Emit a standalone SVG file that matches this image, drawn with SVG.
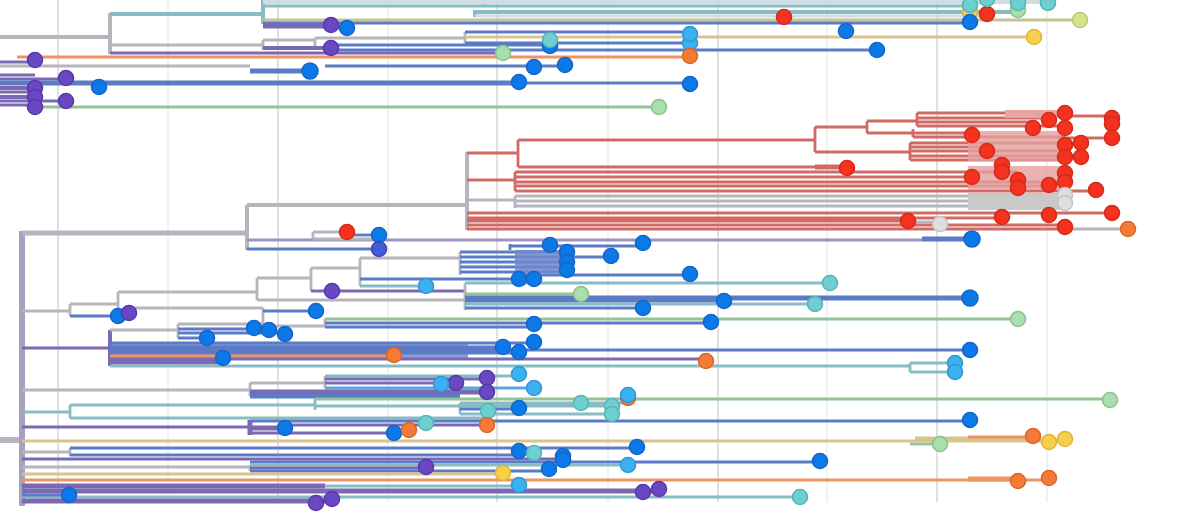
<svg xmlns="http://www.w3.org/2000/svg" width="1199" height="513" viewBox="0 0 1199 513">
<style>
.gd{stroke:#d9d9d9;stroke-width:1.6}
.gl{stroke:#eeeeee;stroke-width:1.6}
path{fill:none;stroke-width:2.8;stroke-linecap:butt}
.k{stroke:#b6b5bd}.rd{stroke:#d06a64}.bl{stroke:#5b7bc6}.pu{stroke:#7a69b3}.te{stroke:#88bcc4}
.gr{stroke:#94c398}.or{stroke:#ee9464}.ye{stroke:#d9c48e}.lg{stroke:#cfdde2}.kh{stroke:#c4c494}.tr{stroke:#a7a1c0;stroke-width:6}
.w{stroke-width:5}.w4{stroke-width:4}
circle{stroke-width:1.6}
.r{fill:#f5311f;stroke:#d42c1c}.b{fill:#0b7ae8;stroke:#1566c6}.lb{fill:#3cb1f1;stroke:#3398d4}
.t{fill:#6fcfd0;stroke:#56b5b7}.g{fill:#a8dfac;stroke:#88c48c}.p{fill:#6a48c4;stroke:#5839ab}
.o{fill:#f47a38;stroke:#dc6828}.y{fill:#f8cf4a;stroke:#e2b638}.yg{fill:#d6e48c;stroke:#bccb72}.lgc{fill:#dedede;stroke:#c4c4c4}
</style>
<rect width="1199" height="513" fill="#ffffff"/>
<g id="grid">
<line class="gd" x1="58" y1="0" x2="58" y2="502"/><line class="gl" x1="168" y1="0" x2="168" y2="502"/>
<line class="gd" x1="278" y1="0" x2="278" y2="502"/><line class="gl" x1="388" y1="0" x2="388" y2="502"/>
<line class="gd" x1="497" y1="0" x2="497" y2="502"/><line class="gl" x1="608" y1="0" x2="608" y2="502"/>
<line class="gd" x1="718" y1="0" x2="718" y2="502"/><line class="gl" x1="827" y1="0" x2="827" y2="502"/>
<line class="gd" x1="937" y1="0" x2="937" y2="502"/><line class="gl" x1="1047" y1="0" x2="1047" y2="502"/>
</g>
<g id="connectors">
<!-- top clade -->
<path class="k w4" d="M0 37H110M110 13V54"/>
<path class="te w4" d="M110 14H263M263 0V24"/>
<path class="lg w4" d="M263 2H1050M483 0V6"/>
<path class="te" d="M263 6H970"/>
<path class="te w4" d="M475 12H1018M475 10V17"/>
<path class="lg" d="M475 16H990"/>
<path class="kh" d="M263 20H1080"/>
<path class="bl" d="M263 23H970"/>
<path class="pu w" d="M263 26H331"/>
<path class="bl" d="M331 28H347"/>
<path class="k" d="M110 45H263M263 40V50M263 40H315M315 38V50M315 38H465M465 32V43"/>
<path class="bl" d="M465 32H690"/>
<path class="ye" d="M465 37H1034"/>
<path class="bl" d="M465 43H690"/>
<path class="bl" d="M331 45H550"/>
<path class="pu w4" d="M263 48H331"/>
<path class="bl" d="M331 50H877"/>
<path class="pu" d="M110 53H503"/>
<path class="or" d="M17 57H690"/>
<path class="pu" d="M0 62H35M0 75H35M0 79H66"/>
<path class="k" d="M0 66H250"/>
<path class="bl w" d="M250 71H310"/>
<path class="bl" d="M325 66H565"/>
<path class="bl w" d="M0 83H519"/>
<path class="bl" d="M519 83H690"/>
<path class="pu w4" d="M0 88H35M0 97H35"/>
<path class="pu" d="M0 92H35M0 101H66M0 105H35"/>
<path class="gr" d="M35 107H659"/>
<!-- root -->
<path class="k" d="M0 440H22" style="stroke-width:6"/>
<path class="tr" d="M22 231V506"/>
<!-- red clade -->
<path class="k w" d="M22 233H247"/>
<path class="k w4" d="M247 205V250M247 205H467M467 152V230"/>
<path class="rd" d="M467 153H518M518 140V167M518 140H815M815 127V152M815 127H867M867 121V133M867 121H917M917 113V126"/>
<path class="rd" d="M917 113H1065M1065 116H1112M917 118H1049M917 122H1033M917 126H1065M867 133H972M913 129V137M913 137H1065M1065 138H1112"/>
<path class="rd" d="M815 152H910M910 143V160M910 143H1081M910 147H987M910 151H1065M910 156H1081M910 160H1065"/>
<path class="rd" d="M518 167H815"/>
<path class="rd w" d="M815 167H847"/>
<path class="rd" d="M467 180H515M515 172V191M515 172H1018M515 177H972M515 182H1065M515 186H1049M515 191H1096"/>
<rect x="1005" y="110" width="57" height="8" fill="#e8a4a2"/>
<rect x="968" y="131" width="94" height="30" fill="#e4a09e" opacity="0.8"/>
<rect x="968" y="166" width="94" height="24" fill="#e4a09e" opacity="0.8"/>
<path class="k" d="M467 200H515M515 196V208M515 196H1065M515 201H1065M515 206H1065"/>
<rect x="968" y="193" width="95" height="17" fill="#c9c9c9"/>
<path class="rd" d="M467 213H1049M1049 213H1112M467 218H1002M467 221H908"/>
<path class="k" d="M908 222H940"/>
<path class="rd" d="M467 225H1065M467 229H1065"/>
<path class="k" d="M1065 229H1128"/>
<!-- lower clades -->
<path class="pu" d="M247 240H922" style="stroke:#9b93c2"/>
<path class="bl w" d="M922 239H970"/>
<path class="bl" d="M247 249H379"/>
<path class="k" d="M313 232V239M313 232H347M313 239H379"/>
<path class="bl" d="M347 235H379"/>
<path class="bl" d="M510 246H643M510 244V250"/>
<path class="k" d="M118 292H257M257 278V300M257 278H311M311 268V291M311 268H360M360 258V286M360 258H460M460 252V275"/>
<path class="bl" d="M460 252H567M460 257H611M460 262H567M460 267H567M460 272H567"/>
<rect x="515" y="250" width="52" height="23" fill="#7088cc" opacity="0.85"/>
<path class="bl" d="M515 275H690M360 279H534"/>
<path class="te" d="M360 286H426"/>
<path class="pu" d="M311 291H465"/>
<path class="k" d="M257 300H465M465 283V310"/>
<path class="te" d="M465 283H830"/>
<path class="gr" d="M465 294H581"/>
<path class="bl w" d="M465 298H970"/>
<path class="bl" d="M465 301H724M465 308H643"/>
<path class="te" d="M465 304H815"/>
<path class="k" d="M22 311H70M70 304V316M70 304H118M118 292V313"/>
<path class="bl" d="M70 316H118"/>
<path class="pu" d="M118 313H129"/>
<path class="k" d="M129 308H263M263 308V326"/>
<path class="bl" d="M263 311H316"/>
<path class="k" d="M263 326H325M325 319V327"/>
<path class="gr" d="M325 319H1018"/>
<path class="bl" d="M325 323H711M325 327H534"/>
<path class="pu" d="M22 348H110"/>
<path class="pu w4" d="M110 330V366"/>
<path class="k" d="M110 330H178M178 324V338M178 324H263"/>
<path class="bl" d="M178 329H269M178 333H285M178 338H207"/>
<rect x="110" y="342" width="358" height="16" fill="#6d85cb" opacity="0.8"/>
<path class="bl" d="M110 343H534M110 347H503M110 350H970M110 353H519"/>
<path class="or" d="M110 356H394"/>
<path class="pu" d="M110 359H706"/>
<path class="pu w" d="M110 362H223"/>
<path class="te" d="M110 366H910M910 363V372M910 363H955M910 372H955"/>
<path class="k" d="M22 390H250M250 383V396M250 383H325M325 376V388"/>
<path class="te" d="M325 376H519"/>
<path class="pu" d="M325 379H487M325 383H456"/>
<path class="lb" d="M325 388H534" style="stroke:#5aa6d8"/>
<path class="pu w" d="M250 392H487"/>
<path class="bl w" d="M250 396H460"/>
<path class="te" d="M22 412H70M70 405V418M70 405H315M315 399V410"/>
<path class="gr" d="M315 399H1110"/>
<path class="te" d="M315 406H460M460 403V414M460 403H628M460 406H612M460 414H612"/>
<path class="bl" d="M460 409H519"/>
<path class="te" d="M70 418H488"/>
<path class="bl" d="M250 421H970"/>
<path class="pu" d="M22 427H250"/>
<path class="pu w" d="M250 420V435M250 428H285"/>
<path class="pu" d="M250 433H394M285 425H487"/>
<path class="or" d="M394 430H409"/>
<path class="ye" d="M22 441H968M968 441H1065"/>
<path class="ye w" d="M915 439H1033"/>
<path class="or" d="M968 437H1033"/>
<path class="gr" d="M910 444H940"/>
<path class="k" d="M22 452H70M70 448V456"/>
<path class="bl" d="M70 448H637M70 455H519"/>
<path class="te" d="M519 453H534"/>
<path class="pu" d="M22 459H563"/>
<path class="bl" d="M250 462H820"/>
<path class="k" d="M22 467H250M250 465V471"/>
<path class="te" d="M250 465H628"/>
<path class="pu" d="M250 468H426"/>
<path class="bl" d="M250 471H549"/>
<path class="ye" d="M22 474H503"/>
<path class="or" d="M22 480H1049"/>
<path class="or w" d="M968 479H1018"/>
<path class="pu w" d="M22 486H325"/>
<path class="te" d="M325 486H519"/>
<path class="pu w" d="M22 491H659"/>
<path class="te" d="M22 497H800"/>
<path class="bl" d="M22 495H69"/>
<path class="pu w" d="M22 501H332"/>
</g>
<g id="tips-top">
<circle class="p" cx="35" cy="60" r="7.5"/><circle class="p" cx="66" cy="78" r="7.5"/><circle class="p" cx="35" cy="88" r="7.5"/>
<circle class="p" cx="35" cy="97" r="7.5"/><circle class="p" cx="35" cy="107" r="7.5"/><circle class="p" cx="66" cy="101" r="7.5"/>
<circle class="b" cx="99" cy="87" r="7.5"/><circle class="b" cx="310" cy="71" r="8"/>
<circle class="p" cx="331" cy="25" r="7.5"/><circle class="b" cx="347" cy="28" r="7.5"/><circle class="p" cx="331" cy="48" r="7.5"/>
<circle class="g" cx="503" cy="53" r="7.5"/><circle class="b" cx="550" cy="46" r="7.5"/><circle class="t" cx="550" cy="40" r="7.5"/>
<circle class="b" cx="534" cy="67" r="7.5"/><circle class="b" cx="565" cy="65" r="7.5"/><circle class="b" cx="519" cy="82" r="7.5"/>
<circle class="lb" cx="690" cy="43" r="7.5"/><circle class="lb" cx="690" cy="34" r="7.5"/><circle class="o" cx="690" cy="56" r="7.5"/>
<circle class="b" cx="690" cy="84" r="7.5"/><circle class="g" cx="659" cy="107" r="7.5"/>
<circle class="r" cx="784" cy="17" r="7.5"/><circle class="b" cx="846" cy="31" r="7.5"/><circle class="b" cx="877" cy="50" r="7.5"/>
<circle class="y" cx="970" cy="12" r="7.5"/><circle class="t" cx="970" cy="5" r="7.5"/><circle class="b" cx="970" cy="22" r="7.5"/>
<circle class="r" cx="987" cy="14" r="7.5"/><circle class="t" cx="987" cy="-1" r="7.5"/>
<circle class="g" cx="1018" cy="10" r="7.5"/><circle class="t" cx="1018" cy="3" r="7.5"/><circle class="t" cx="1048" cy="3" r="7.5"/>
<circle class="yg" cx="1080" cy="20" r="7.5"/><circle class="y" cx="1034" cy="37" r="7.5"/>
</g>
<g id="tips-red">
<circle class="r" cx="1065" cy="113" r="7.5"/><circle class="r" cx="1049" cy="120" r="7.5"/><circle class="r" cx="1033" cy="128" r="7.5"/>
<circle class="r" cx="1065" cy="128" r="7.5"/><circle class="r" cx="1112" cy="118" r="7.5"/><circle class="r" cx="1112" cy="124" r="7.5"/>
<circle class="r" cx="1112" cy="138" r="7.5"/><circle class="r" cx="972" cy="135" r="7.5"/><circle class="r" cx="987" cy="151" r="7.5"/>
<circle class="r" cx="1065" cy="145" r="7.5"/><circle class="r" cx="1081" cy="143" r="7.5"/><circle class="r" cx="1065" cy="157" r="7.5"/>
<circle class="r" cx="1081" cy="157" r="7.5"/><circle class="r" cx="847" cy="168" r="7.5"/><circle class="r" cx="1002" cy="165" r="7.5"/>
<circle class="r" cx="1002" cy="172" r="7.5"/><circle class="r" cx="972" cy="177" r="7.5"/><circle class="r" cx="1018" cy="180" r="7.5"/>
<circle class="r" cx="1018" cy="188" r="7.5"/><circle class="r" cx="1049" cy="185" r="7.5"/><circle class="r" cx="1065" cy="173" r="7.5"/>
<circle class="r" cx="1065" cy="182" r="7.5"/><circle class="r" cx="1096" cy="190" r="7.5"/><circle class="lgc" cx="1065" cy="195" r="7.5"/>
<circle class="lgc" cx="1065" cy="203" r="7.5"/><circle class="r" cx="1112" cy="213" r="7.5"/><circle class="r" cx="1049" cy="215" r="7.5"/>
<circle class="r" cx="1002" cy="217" r="7.5"/><circle class="r" cx="908" cy="221" r="7.5"/><circle class="lgc" cx="940" cy="224" r="7.5"/>
<circle class="r" cx="1065" cy="227" r="7.5"/><circle class="o" cx="1128" cy="229" r="7.5"/><circle class="b" cx="972" cy="239" r="8"/>
</g>
<g id="tips-lower">
<circle class="r" cx="347" cy="232" r="7.5"/><circle class="b" cx="379" cy="235" r="7.5"/><circle class="p" cx="379" cy="249" r="7.5" style="fill:#3f5ed4"/>
<circle class="b" cx="550" cy="245" r="7.5"/><circle class="b" cx="643" cy="243" r="7.5"/>
<circle class="b" cx="567" cy="252" r="7.5"/><circle class="b" cx="567" cy="262" r="7.5"/><circle class="b" cx="567" cy="270" r="7.5"/>
<circle class="b" cx="611" cy="256" r="7.5"/><circle class="b" cx="519" cy="279" r="7.5"/><circle class="b" cx="534" cy="279" r="7.5"/>
<circle class="b" cx="690" cy="274" r="7.5"/><circle class="p" cx="332" cy="291" r="7.5"/><circle class="lb" cx="426" cy="286" r="7.5"/>
<circle class="t" cx="830" cy="283" r="7.5"/><circle class="g" cx="581" cy="294" r="7.5"/><circle class="b" cx="970" cy="298" r="8"/>
<circle class="b" cx="724" cy="301" r="7.5"/><circle class="t" cx="815" cy="304" r="7.5"/><circle class="b" cx="643" cy="308" r="7.5"/>
<circle class="b" cx="118" cy="316" r="7.5"/><circle class="p" cx="129" cy="313" r="7.5"/><circle class="b" cx="316" cy="311" r="7.5"/>
<circle class="g" cx="1018" cy="319" r="7.5"/><circle class="b" cx="711" cy="322" r="7.5"/><circle class="b" cx="534" cy="324" r="7.5"/>
<circle class="b" cx="207" cy="338" r="7.5"/><circle class="b" cx="254" cy="328" r="7.5"/><circle class="b" cx="269" cy="330" r="7.5"/><circle class="b" cx="285" cy="334" r="7.5"/>
<circle class="b" cx="534" cy="342" r="7.5"/><circle class="b" cx="503" cy="347" r="7.5"/><circle class="b" cx="519" cy="352" r="7.5"/>
<circle class="b" cx="970" cy="350" r="7.5"/><circle class="o" cx="394" cy="355" r="7.5"/><circle class="b" cx="223" cy="358" r="7.5"/>
<circle class="o" cx="706" cy="361" r="7.5"/><circle class="lb" cx="955" cy="363" r="7.5"/><circle class="lb" cx="955" cy="372" r="7.5"/>
<circle class="lb" cx="519" cy="374" r="7.5"/><circle class="p" cx="487" cy="378" r="7.5"/><circle class="p" cx="456" cy="383" r="7.5"/>
<circle class="lb" cx="441" cy="384" r="7.5"/><circle class="p" cx="487" cy="392" r="7.5"/><circle class="lb" cx="534" cy="388" r="7.5"/>
<circle class="o" cx="628" cy="398" r="7.5"/><circle class="lb" cx="628" cy="395" r="7.5"/><circle class="g" cx="1110" cy="400" r="7.5"/>
<circle class="t" cx="581" cy="403" r="7.5"/><circle class="t" cx="612" cy="406" r="7.5"/><circle class="t" cx="612" cy="414" r="7.5"/>
<circle class="b" cx="519" cy="408" r="7.5"/><circle class="t" cx="488" cy="411" r="7.5"/><circle class="b" cx="970" cy="420" r="7.5"/>
<circle class="b" cx="285" cy="428" r="7.5"/><circle class="b" cx="394" cy="433" r="7.5"/><circle class="o" cx="409" cy="430" r="7.5"/>
<circle class="t" cx="426" cy="423" r="7.5"/><circle class="o" cx="487" cy="425" r="7.5"/>
<circle class="g" cx="940" cy="444" r="7.5"/><circle class="o" cx="1033" cy="436" r="7.5"/><circle class="y" cx="1049" cy="442" r="7.5"/><circle class="y" cx="1065" cy="439" r="7.5"/>
<circle class="b" cx="637" cy="447" r="7.5"/><circle class="b" cx="519" cy="451" r="7.5"/><circle class="t" cx="534" cy="453" r="7.5"/>
<circle class="b" cx="563" cy="456" r="7.5"/><circle class="b" cx="563" cy="460" r="7.5"/><circle class="b" cx="820" cy="461" r="7.5"/>
<circle class="p" cx="426" cy="467" r="7.5"/><circle class="b" cx="549" cy="469" r="7.5"/><circle class="lb" cx="628" cy="465" r="7.5"/>
<circle class="y" cx="503" cy="473" r="7.5"/><circle class="o" cx="1018" cy="481" r="7.5"/><circle class="o" cx="1049" cy="478" r="7.5"/>
<circle class="lb" cx="519" cy="485" r="7.5"/><circle class="p" cx="643" cy="492" r="7.5"/><circle class="p" cx="659" cy="489" r="7.5"/>
<circle class="b" cx="69" cy="495" r="7.5"/><circle class="t" cx="800" cy="497" r="7.5"/>
<circle class="p" cx="316" cy="503" r="7.5"/><circle class="p" cx="332" cy="499" r="7.5"/>
</g>
</svg>
